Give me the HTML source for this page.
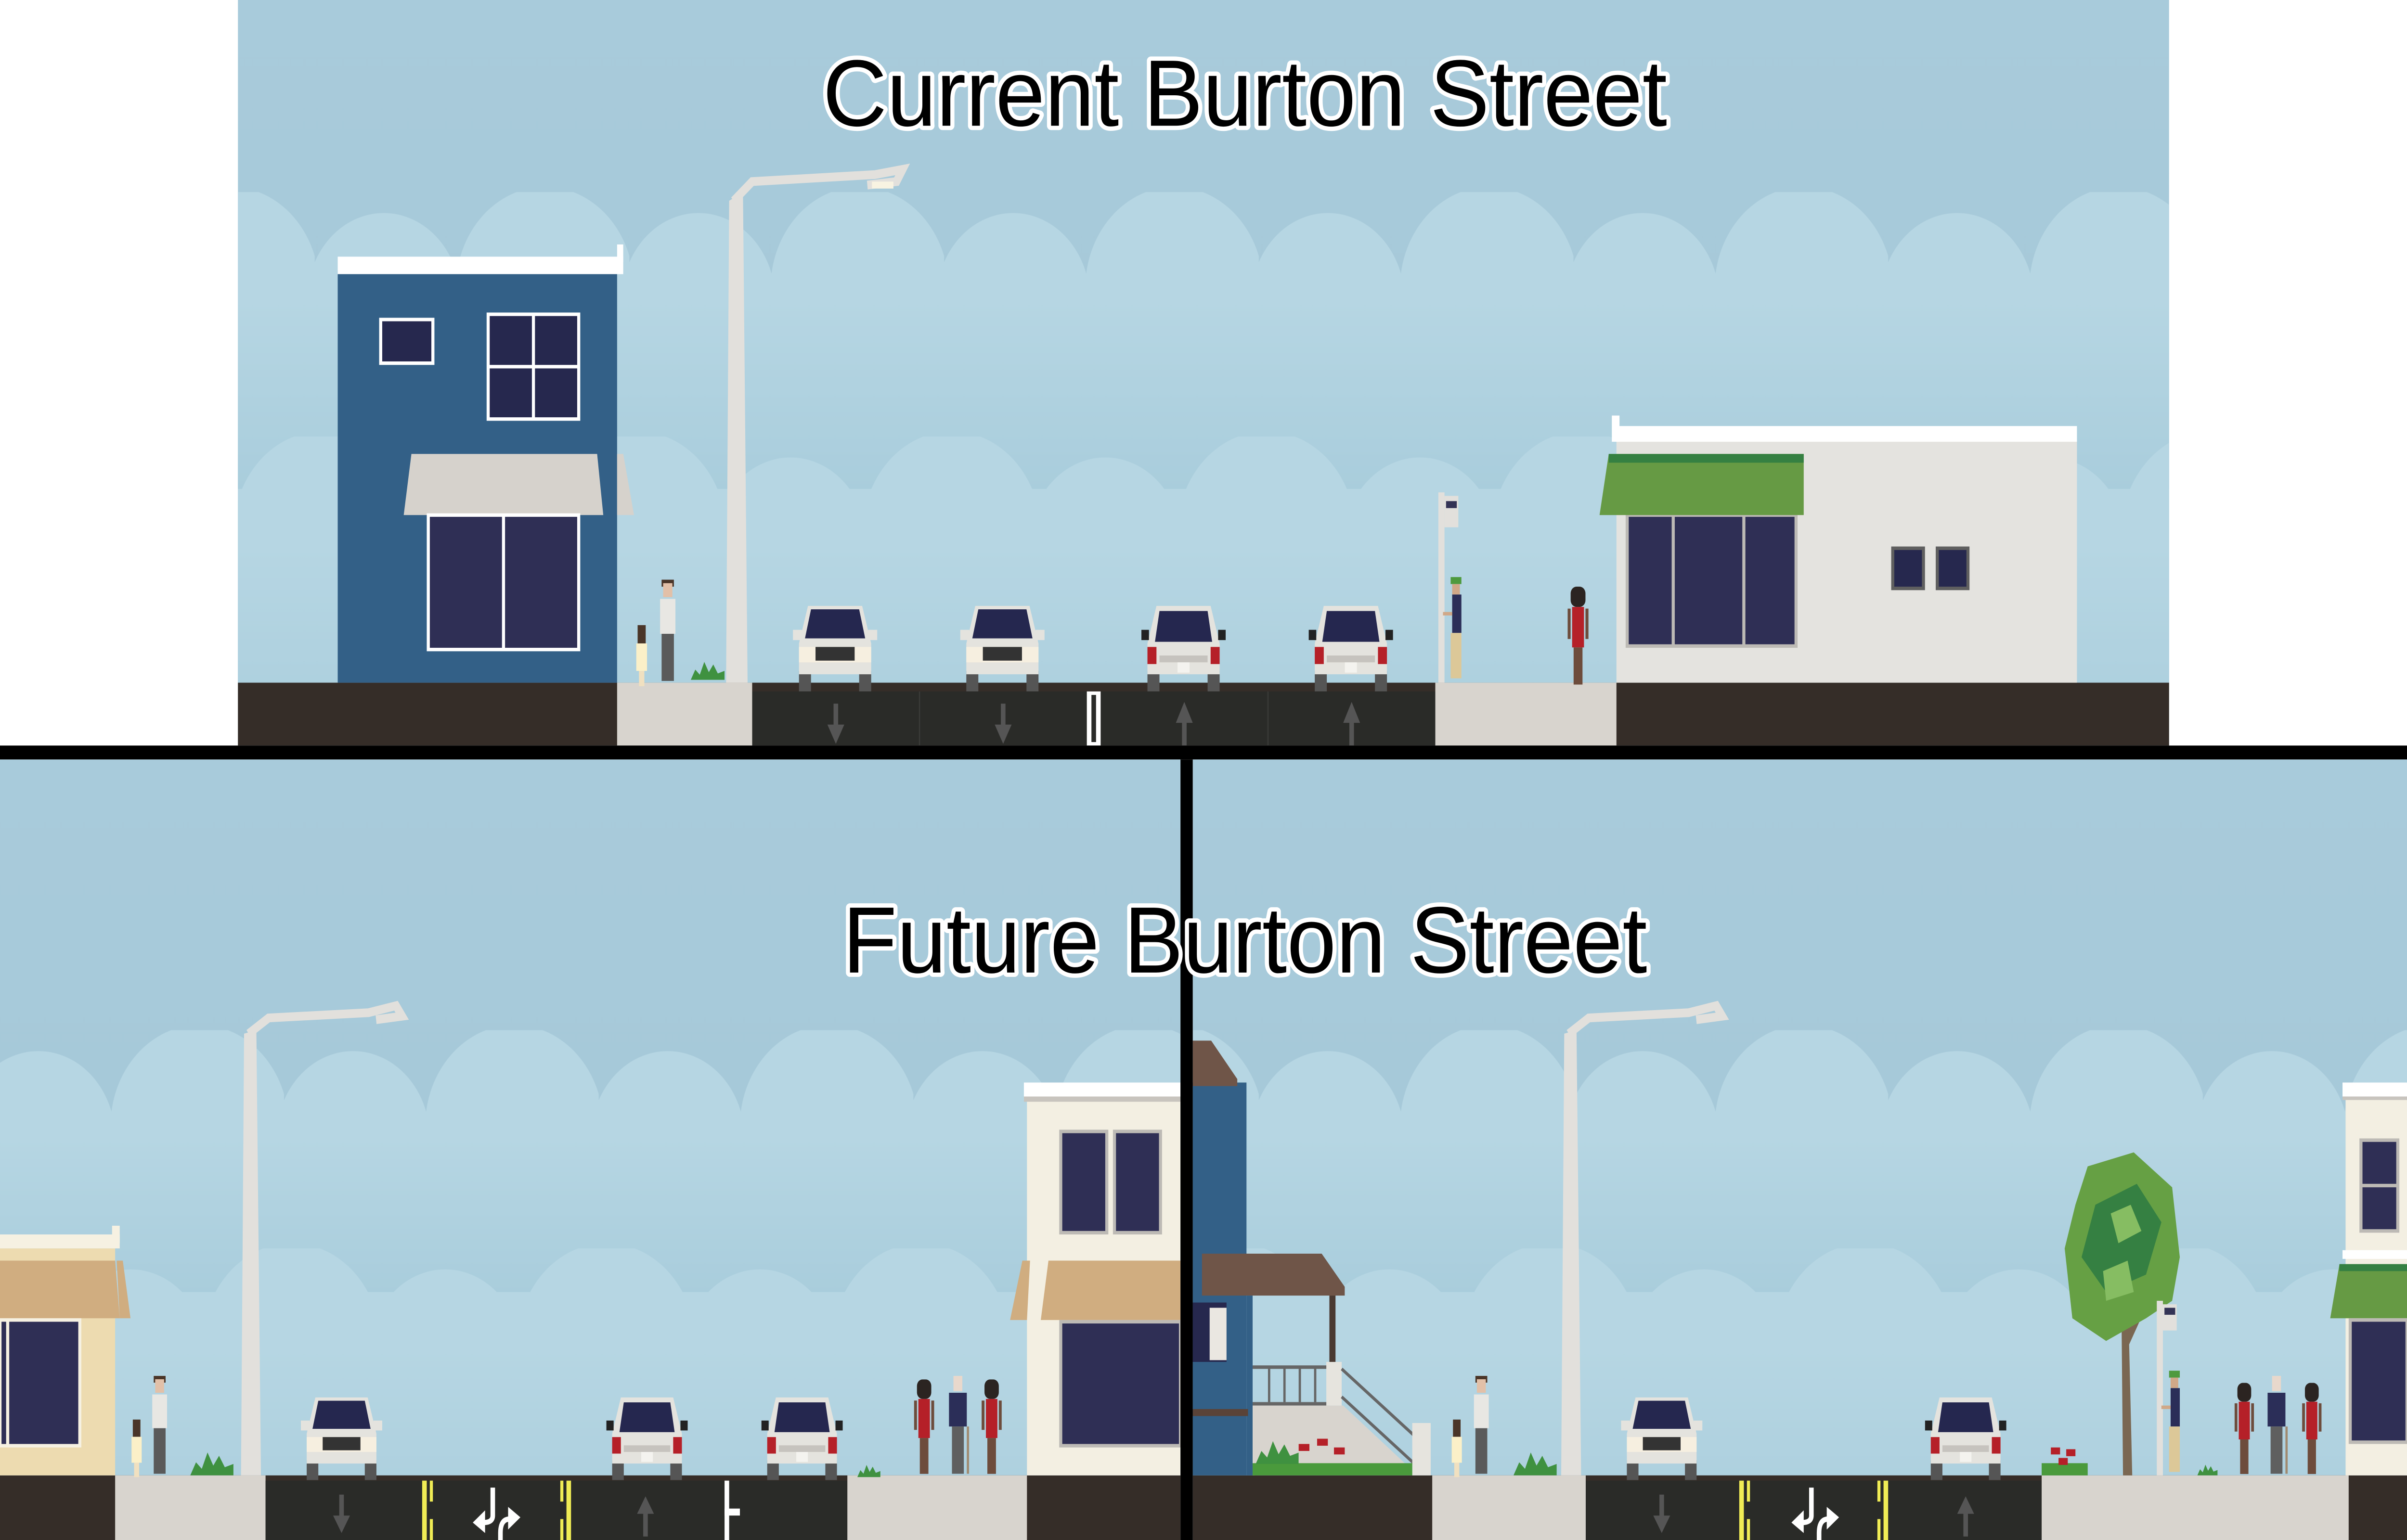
<!DOCTYPE html>
<html><head><meta charset="utf-8"><style>html,body{margin:0;padding:0;background:#fff;overflow:hidden;width:100%;height:100%}svg{display:block;width:100vw;height:100vh}</style></head>
<body>
<svg xmlns="http://www.w3.org/2000/svg" viewBox="0 0 1568 882" preserveAspectRatio="none">
<defs>
<linearGradient id="sky" x1="0" y1="0" x2="0" y2="1"><stop offset="0" stop-color="#a8cbdb"/><stop offset="1" stop-color="#a4c6d6"/></linearGradient>
<linearGradient id="fade" x1="0" y1="0" x2="0" y2="1"><stop offset="0" stop-color="#a9cddc" stop-opacity="0"/><stop offset="1" stop-color="#a9cddc" stop-opacity="1"/></linearGradient>
<pattern id="cl" patternUnits="userSpaceOnUse" width="205" height="600">
<rect x="0" y="60" width="205" height="540" fill="#b6d6e3"/>
<circle cx="45" cy="62" r="50" fill="#b6d6e3"/><circle cx="150" cy="55" r="58" fill="#b6d6e3"/>
</pattern>
<symbol id="carF" viewBox="0 0 56 50">
<rect x="4" y="38" width="8" height="12" fill="#555"/><rect x="44" y="38" width="8" height="12" fill="#555"/>
<path d="M10 0H46L52 22V40H4V22Z" fill="#e4e3de"/>
<rect x="0" y="14" width="6" height="6" fill="#e4e3de"/><rect x="50" y="14" width="6" height="6" fill="#e4e3de"/>
<polygon points="12,2 44,2 48,19 8,19" fill="#25274f"/>
<rect x="4" y="24" width="48" height="9" fill="#f6efe0"/><rect x="15" y="24" width="26" height="8" fill="#333"/>
</symbol>
<symbol id="carB" viewBox="0 0 56 50">
<rect x="4" y="38" width="8" height="12" fill="#555"/><rect x="44" y="38" width="8" height="12" fill="#555"/>
<path d="M10 0H46L52 22V40H4V22Z" fill="#e4e3de"/>
<rect x="0" y="14" width="5" height="6" fill="#222"/><rect x="51" y="14" width="5" height="6" fill="#222"/>
<polygon points="12,3 44,3 47,21 9,21" fill="#25274f"/>
<rect x="4" y="24" width="6" height="10" fill="#b52028"/><rect x="46" y="24" width="6" height="10" fill="#b52028"/>
<rect x="12" y="29" width="32" height="4" fill="#c6c3be"/><rect x="24" y="33" width="8" height="6" fill="#f4f3ef"/>
</symbol>
<symbol id="man" viewBox="0 0 14 60"><rect x="3" y="0" width="8" height="4" fill="#4a3528"/><rect x="4" y="2" width="6" height="8" fill="#e2c0a8"/><rect x="2" y="11" width="10" height="20" fill="#e8e7e3"/><rect x="3" y="31" width="8" height="27" fill="#5a5a5a"/></symbol>
<symbol id="girl" viewBox="0 0 10 40"><rect x="2" y="0" width="6" height="12" fill="#4a3528"/><rect x="1" y="12" width="8" height="18" fill="#fbf0c8"/><rect x="3" y="30" width="4" height="10" fill="#f0e0c0"/></symbol>
<symbol id="woman" viewBox="0 0 14 60"><rect x="2" y="0" width="10" height="12" rx="4" fill="#2b2421"/><rect x="3" y="12" width="8" height="24" fill="#b52028"/><rect x="0" y="13" width="2" height="18" fill="#6d4c3c"/><rect x="12" y="13" width="2" height="18" fill="#6d4c3c"/><rect x="4" y="36" width="6" height="22" fill="#6d4c3c"/></symbol>
<symbol id="old" viewBox="0 0 16 60"><rect x="5" y="0" width="6" height="9" fill="#e8d8cc"/><rect x="2" y="10" width="12" height="20" fill="#2b2e58"/><rect x="4" y="30" width="8" height="28" fill="#5f5f5f"/><rect x="14" y="30" width="1.5" height="28" fill="#a08a70"/></symbol>
<symbol id="waiter" viewBox="0 0 16 60"><rect x="8" y="0" width="7" height="4" fill="#4e9a3e"/><rect x="9" y="4" width="5" height="6" fill="#d0a888"/><rect x="9" y="10" width="6" height="22" fill="#2b2e58"/><rect x="3" y="20" width="6" height="2" fill="#d0a888"/><rect x="8" y="32" width="7" height="26" fill="#dcc898"/></symbol>
<symbol id="bush" viewBox="0 0 30 16"><path d="M0 16 L4 8 L8 12 L12 2 L16 10 L20 4 L24 11 L30 9 L30 16Z" fill="#3f9140"/></symbol>
</defs>

<rect width="1568" height="882" fill="#fff"/>

<!-- ===== TOP PANEL ===== -->
<g>
<rect x="155" y="0" width="1258" height="427" fill="url(#sky)"/>
<g transform="translate(0,110)"><rect x="155" y="0" width="1258" height="281" fill="url(#cl)"/></g>
<rect x="155" y="170" width="1258" height="110" fill="url(#fade)"/>
<g transform="translate(60,250)"><rect x="95" y="0" width="1258" height="141" fill="url(#cl)"/></g>
<rect x="155" y="310" width="1258" height="81" fill="url(#fade)" opacity="0.6"/>
<rect x="155" y="391" width="1258" height="36" fill="#352d28"/>

<rect x="220" y="155" width="182" height="236" fill="#336087"/>
<rect x="220" y="147" width="186" height="10" fill="#fff"/>
<rect x="402" y="140" width="4" height="10" fill="#fff"/>
<rect x="248" y="183" width="34" height="25" fill="#26284e" stroke="#fff" stroke-width="2"/>
<rect x="318" y="180" width="59" height="60" fill="#26284e" stroke="#fff" stroke-width="2"/>
<line x1="347.5" y1="180" x2="347.5" y2="240" stroke="#fff" stroke-width="2"/><line x1="318" y1="210" x2="377" y2="210" stroke="#fff" stroke-width="2"/>
<polygon points="268,260 389,260 393,295 263,295" fill="#d6d2cc"/>
<polygon points="402,260 406,260 413,295 402,295" fill="#d6d2cc"/>
<rect x="279" y="295" width="98" height="77" fill="#2f2f55" stroke="#fff" stroke-width="2"/>
<line x1="328" y1="295" x2="328" y2="372" stroke="#fff" stroke-width="2"/>

<rect x="402" y="391" width="88" height="36" fill="#d8d4ce"/>
<rect x="935" y="391" width="118" height="36" fill="#d8d4ce"/>
<polygon points="475,115 484,110 487,391 473,391" fill="#e2e0dc"/>
<path d="M478 115 L490 104 L570 100 L588 97 L584 104 L565 106" fill="none" stroke="#e2e0dc" stroke-width="5"/>
<rect x="568" y="104" width="14" height="4" fill="#f8f3e2"/>
<use href="#bush" x="450" y="376" width="22" height="15"/>
<use href="#man" x="428" y="332" width="14" height="60"/>
<use href="#girl" x="413" y="358" width="10" height="35"/>

<rect x="490" y="396" width="445" height="31" fill="#2a2b28"/>
<line x1="599" y1="396" x2="599" y2="427" stroke="#3a3b38" stroke-width="0.8"/>
<line x1="826" y1="396" x2="826" y2="427" stroke="#3a3b38" stroke-width="0.8"/>
<rect x="708" y="396" width="9" height="31" fill="#fff"/><rect x="711" y="398" width="3" height="27" fill="#2a2b28"/>
<g fill="#555"><rect x="543" y="403" width="3" height="14"/><polygon points="539,415 550,415 544.5,426"/>
<rect x="652" y="403" width="3" height="14"/><polygon points="648,415 659,415 653.5,426"/>
<rect x="770" y="412" width="3" height="15"/><polygon points="766,414 777,414 771.5,402"/>
<rect x="879" y="412" width="3" height="15"/><polygon points="875,414 886,414 880.5,402"/></g>
<use href="#carF" x="516" y="347" width="56" height="49"/>
<use href="#carF" x="625" y="347" width="56" height="49"/>
<use href="#carB" x="743" y="347" width="56" height="49"/>
<use href="#carB" x="852" y="347" width="56" height="49"/>

<rect x="937" y="282" width="4" height="109" fill="#e2e0dc"/>
<rect x="941" y="284" width="9" height="18" fill="#e2e0dc"/><rect x="942" y="287" width="7" height="4" fill="#333355"/>
<use href="#waiter" x="937" y="330" width="16" height="61"/>
<use href="#woman" x="1021" y="336" width="14" height="58"/>

<rect x="1053" y="252" width="300" height="139" fill="#e4e3df"/>
<rect x="1053" y="244" width="300" height="9" fill="#fff"/><rect x="1050" y="238" width="5" height="15" fill="#fff"/>
<rect x="1060" y="295" width="110" height="75" fill="#2f2f55" stroke="#bdbab5" stroke-width="2"/>
<line x1="1090" y1="295" x2="1090" y2="370" stroke="#bdbab5" stroke-width="2"/><line x1="1136" y1="295" x2="1136" y2="370" stroke="#bdbab5" stroke-width="2"/>
<polygon points="1048,260 1175,260 1175,295 1042,295" fill="#669a44"/>
<rect x="1048" y="260" width="127" height="5" fill="#358042"/>
<rect x="1233" y="314" width="20" height="23" fill="#26284e" stroke="#5f5f5f" stroke-width="2"/>
<rect x="1262" y="314" width="20" height="23" fill="#26284e" stroke="#5f5f5f" stroke-width="2"/>

<text x="811" y="72" text-anchor="middle" font-family="Liberation Sans, sans-serif" font-size="54" fill="#000" stroke="#fff" stroke-width="5" paint-order="stroke" stroke-linejoin="round" textLength="550" lengthAdjust="spacingAndGlyphs">Current Burton Street</text>
</g>

<rect x="0" y="427" width="1568" height="8" fill="#000"/>

<!-- ===== BOTTOM LEFT ===== -->
<g>
<rect x="0" y="435" width="769" height="447" fill="url(#sky)"/>
<g transform="translate(-20,590)"><rect x="20" y="0" width="769" height="255" fill="url(#cl)"/></g>
<rect x="0" y="650" width="769" height="90" fill="url(#fade)"/>
<g transform="translate(40,715)"><rect x="-40" y="0" width="769" height="130" fill="url(#cl)"/></g>
<rect x="0" y="770" width="769" height="75" fill="url(#fade)" opacity="0.6"/>
<rect x="0" y="845" width="769" height="37" fill="#352d28"/>

<rect x="0" y="715" width="75" height="130" fill="#eddbb0"/>
<rect x="0" y="707" width="78" height="8" fill="#f6f1e2"/><rect x="73" y="702" width="5" height="10" fill="#f6f1e2"/>
<polygon points="0,722 75,722 78,755 0,755" fill="#d0ad80"/>
<polygon points="76,722 80,722 85,755 78,755" fill="#d0ad80"/>
<rect x="0" y="756" width="52" height="72" fill="#2f2f55" stroke="#f6f1e2" stroke-width="2"/>
<line x1="5" y1="756" x2="5" y2="828" stroke="#f6f1e2" stroke-width="2"/>

<rect x="75" y="845" width="98" height="37" fill="#d8d4ce"/>
<polygon points="159,592 167,590 170,845 157,845" fill="#e2e0dc"/>
<path d="M162 592 L175 583 L240 580 L258 576 L262 582 L245 584" fill="none" stroke="#e2e0dc" stroke-width="5"/>
<use href="#bush" x="120" y="830" width="36" height="15"/>
<use href="#man" x="97" y="788" width="14" height="58"/>
<use href="#girl" x="84" y="813" width="10" height="33"/>

<rect x="173" y="848" width="379" height="34" fill="#2a2b28"/>
<rect x="275" y="848" width="3" height="34" fill="#f0ec55"/><rect x="280" y="848" width="2" height="12" fill="#f0ec55"/><rect x="280" y="870" width="2" height="12" fill="#f0ec55"/>
<rect x="369" y="848" width="3" height="34" fill="#f0ec55"/><rect x="365" y="848" width="2" height="12" fill="#f0ec55"/><rect x="365" y="870" width="2" height="12" fill="#f0ec55"/>
<rect x="472" y="848" width="3" height="34" fill="#fff"/><rect x="472" y="864" width="10" height="4" fill="#fff"/>
<g fill="#555"><rect x="221" y="856" width="3" height="14"/><polygon points="217,868 228,868 222.5,878"/>
<rect x="419" y="865" width="3" height="15"/><polygon points="415,867 426,867 420.5,857"/></g>
<path d="M321 852 V868 Q321 872 315 872" fill="none" stroke="#fff" stroke-width="3"/><polygon points="308,872 316,865 316,878" fill="#fff"/>
<path d="M326 882 V878 Q326 870 332 870" fill="none" stroke="#fff" stroke-width="3"/><polygon points="339,869 331,863 331,876" fill="#fff"/>
<use href="#carF" x="196" y="800" width="53" height="48"/>
<use href="#carB" x="395" y="800" width="53" height="48"/>
<use href="#carB" x="496" y="800" width="53" height="48"/>

<rect x="552" y="845" width="117" height="37" fill="#d8d4ce"/>
<use href="#bush" x="552" y="838" width="28" height="8"/>
<use href="#woman" x="595" y="790" width="14" height="56"/>
<use href="#old" x="616" y="788" width="16" height="58"/>
<use href="#woman" x="639" y="790" width="14" height="56"/>

<rect x="669" y="630" width="100" height="215" fill="#f3efe2"/>
<rect x="667" y="620" width="102" height="10" fill="#fff"/><rect x="667" y="628" width="102" height="3" fill="#c8c4be"/>
<rect x="691" y="648" width="30" height="58" fill="#2f2f55" stroke="#bdbab5" stroke-width="2"/>
<rect x="726" y="648" width="30" height="58" fill="#2f2f55" stroke="#bdbab5" stroke-width="2"/>
<polygon points="683,722 769,722 769,756 678,756" fill="#d0ad80"/>
<polygon points="666,722 671,722 669,756 658,756" fill="#d0ad80"/>
<rect x="691" y="757" width="78" height="71" fill="#2f2f55" stroke="#bdbab5" stroke-width="2"/>
</g>

<!-- ===== BOTTOM RIGHT ===== -->
<g>
<rect x="777" y="435" width="791" height="447" fill="url(#sky)"/>
<g transform="translate(0,590)"><rect x="777" y="0" width="791" height="255" fill="url(#cl)"/></g>
<rect x="777" y="650" width="791" height="90" fill="url(#fade)"/>
<g transform="translate(40,715)"><rect x="737" y="0" width="791" height="130" fill="url(#cl)"/></g>
<rect x="777" y="770" width="791" height="75" fill="url(#fade)" opacity="0.6"/>
<rect x="777" y="845" width="791" height="37" fill="#352d28"/>

<rect x="777" y="620" width="35" height="225" fill="#336087"/>
<polygon points="777,596 789,596 806,618 806,622 777,622" fill="#6f5548"/>
<polygon points="783,718 861,718 876,737 876,742 783,742" fill="#6f5548"/>
<rect x="812" y="742" width="4" height="103" fill="#336087"/>
<rect x="866" y="742" width="4" height="45" fill="#4a3a32"/>
<rect x="777" y="746" width="22" height="34" fill="#26284e"/><rect x="788" y="749" width="11" height="30" fill="#eae7e1"/>
<rect x="777" y="807" width="36" height="4" fill="#5a4338"/>
<rect x="816" y="782" width="50" height="2" fill="#666"/><rect x="816" y="803" width="50" height="2" fill="#666"/>
<g fill="#666"><rect x="826" y="783" width="1.5" height="20"/><rect x="836" y="783" width="1.5" height="20"/><rect x="846" y="783" width="1.5" height="20"/><rect x="856" y="783" width="1.5" height="20"/></g>
<polygon points="816,805 875,805 920,842 816,845" fill="#d8d4ce"/>
<rect x="864" y="780" width="10" height="25" fill="#e6e4de"/>
<line x1="874" y1="784" x2="921" y2="822" stroke="#666" stroke-width="1.8"/>
<line x1="874" y1="800" x2="921" y2="838" stroke="#666" stroke-width="1.8"/>
<rect x="920" y="815" width="12" height="30" fill="#e6e4de"/>
<rect x="816" y="838" width="104" height="7" fill="#4a9a3c"/>
<use href="#bush" x="818" y="820" width="28" height="22"/>
<g fill="#b52028"><rect x="846" y="827" width="7" height="4"/><rect x="858" y="824" width="7" height="4"/><rect x="869" y="829" width="7" height="4"/></g>

<rect x="933" y="845" width="100" height="37" fill="#d8d4ce"/>
<use href="#man" x="958" y="788" width="14" height="58"/>
<use href="#girl" x="944" y="813" width="10" height="33"/>
<use href="#bush" x="985" y="830" width="30" height="15"/>
<polygon points="1019,592 1027,590 1030,845 1017,845" fill="#e2e0dc"/>
<path d="M1022 592 L1035 583 L1100 580 L1118 576 L1122 582 L1105 584" fill="none" stroke="#e2e0dc" stroke-width="5"/>

<rect x="1033" y="848" width="297" height="34" fill="#2a2b28"/>
<rect x="1133" y="848" width="3" height="34" fill="#f0ec55"/><rect x="1138" y="848" width="2" height="12" fill="#f0ec55"/><rect x="1138" y="870" width="2" height="12" fill="#f0ec55"/>
<rect x="1227" y="848" width="3" height="34" fill="#f0ec55"/><rect x="1223" y="848" width="2" height="12" fill="#f0ec55"/><rect x="1223" y="870" width="2" height="12" fill="#f0ec55"/>
<g fill="#555"><rect x="1081" y="856" width="3" height="14"/><polygon points="1077,868 1088,868 1082.5,878"/>
<rect x="1279" y="865" width="3" height="15"/><polygon points="1275,867 1286,867 1280.5,857"/></g>
<path d="M1180 852 V868 Q1180 872 1174 872" fill="none" stroke="#fff" stroke-width="3"/><polygon points="1167,872 1175,865 1175,878" fill="#fff"/>
<path d="M1185 882 V878 Q1185 870 1191 870" fill="none" stroke="#fff" stroke-width="3"/><polygon points="1198,869 1190,863 1190,876" fill="#fff"/>
<use href="#carF" x="1056" y="800" width="53" height="48"/>
<use href="#carB" x="1254" y="800" width="53" height="48"/>

<rect x="1330" y="845" width="200" height="37" fill="#d8d4ce"/>
<rect x="1330" y="838" width="30" height="7" fill="#4a9a3c"/>
<g fill="#b52028"><rect x="1336" y="829" width="6" height="4"/><rect x="1346" y="830" width="6" height="4"/><rect x="1341" y="835" width="6" height="4"/></g>
<polygon points="1383,845 1389,845 1387,770 1405,735 1400,733 1386,758 1384,740 1368,720 1365,723 1382,752" fill="#7a6752"/>
<polygon points="1360,668 1390,660 1415,680 1420,720 1415,745 1398,755 1372,768 1350,755 1345,715 1352,690" fill="#66a044"/>
<polygon points="1365,690 1392,678 1408,700 1398,730 1372,740 1356,720" fill="#358042"/>
<polygon points="1375,695 1388,690 1395,705 1380,712" fill="#86bd62"/>
<polygon points="1370,728 1386,722 1390,740 1372,745" fill="#86bd62"/>
<rect x="1405" y="745" width="4" height="100" fill="#e2e0dc"/>
<rect x="1409" y="747" width="9" height="15" fill="#e2e0dc"/><rect x="1410" y="749" width="7" height="4" fill="#333355"/>
<use href="#waiter" x="1405" y="785" width="16" height="60"/>
<use href="#bush" x="1428" y="838" width="20" height="7"/>
<use href="#woman" x="1455" y="792" width="14" height="54"/>
<use href="#old" x="1475" y="788" width="16" height="58"/>
<use href="#woman" x="1499" y="792" width="14" height="54"/>

<rect x="1528" y="628" width="40" height="217" fill="#f3efe2"/>
<rect x="1526" y="620" width="42" height="8" fill="#fff"/><rect x="1526" y="628" width="42" height="2" fill="#c8c4be"/>
<rect x="1538" y="653" width="24" height="52" fill="#2f2f55" stroke="#bdbab5" stroke-width="2"/>
<line x1="1538" y1="679" x2="1562" y2="679" stroke="#bdbab5" stroke-width="2"/>
<rect x="1526" y="716" width="42" height="5" fill="#fff"/>
<polygon points="1524,724 1568,724 1568,755 1518,755" fill="#669a44"/><rect x="1524" y="724" width="44" height="4" fill="#358042"/>
<rect x="1531" y="756" width="37" height="70" fill="#2f2f55" stroke="#bdbab5" stroke-width="2"/>
</g>

<rect x="769" y="435" width="8" height="447" fill="#000"/>

<text x="811" y="557" text-anchor="middle" font-family="Liberation Sans, sans-serif" font-size="54" fill="#000" stroke="#fff" stroke-width="5" paint-order="stroke" stroke-linejoin="round" textLength="524" lengthAdjust="spacingAndGlyphs">Future Burton Street</text>
</svg>
</body></html>
